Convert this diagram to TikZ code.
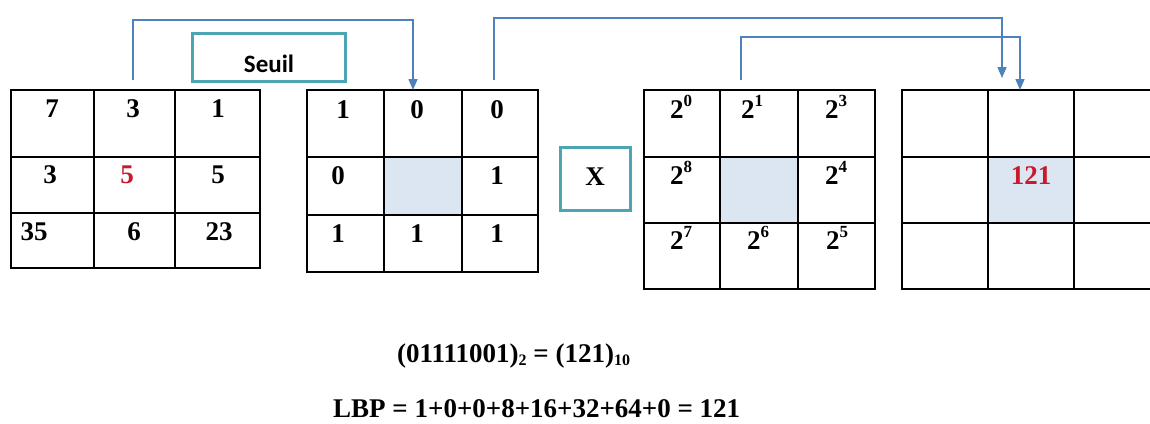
\documentclass[tikz,border=0pt]{standalone}
\usepackage{fontspec}
\setmainfont{Liberation Serif}
\newfontfamily\labelfont{Carlito}
\usetikzlibrary{arrows.meta,calc}

\definecolor{arrowblue}{RGB}{79,129,189}
\definecolor{tealframe}{RGB}{75,165,178}
\definecolor{cellshade}{RGB}{220,230,242}
\definecolor{valred}{RGB}{200,25,45}

% one grid cell: name, left, top, right, bottom, fill colour
\newcommand\gridcell[6]{%
  \node[cellbox, fill=#6, minimum width={#4pt-#2pt}, minimum height={#5pt-#3pt}] (#1) at (#2,#3) {};}
% power of two with its exponent
\newcommand\pw[1]{2\raisebox{0.42em}{\fontsize{17}{17}\selectfont #1}}
% base index after a number
\newcommand\idx[1]{\raisebox{-0.12em}{\fontsize{16}{16}\selectfont #1}}

\tikzset{
  cellbox/.style={draw=black, line width=1.6pt, inner sep=0pt, outer sep=0pt, anchor=north west},
  opbox/.style={draw=tealframe, line width=3pt, inner sep=0pt, outer sep=0pt, anchor=north west},
  val/.style={font=\fontsize{27}{27}\selectfont\bfseries, inner sep=0pt, anchor=base},
  pow/.style={val, anchor=base west},
  link/.style={draw=arrowblue, line width=1.5pt, -{Triangle[length=11pt,width=9pt]}},
}

\begin{document}
\begin{tikzpicture}[x=1pt, y=-1pt]
  \useasboundingbox (0,0) rectangle (1150,423);
  \clip (0,0) rectangle (1150,423);

  % input neighbourhood
  \foreach \c/\xa/\xb in {1/11/94, 2/94/175, 3/175/260}
    \foreach \r/\ya/\yb in {1/90/157, 2/157/213, 3/213/268}
      {\gridcell{g1-\r\c}{\xa}{\ya}{\xb}{\yb}{white}}

  % thresholded neighbourhood
  \foreach \c/\xa/\xb in {1/307/384, 2/384/462, 3/462/538}
    \foreach \r/\ya/\yb in {1/90/157, 2/157/215, 3/215/272}
      {\ifnum\r\c=22 \def\cf{cellshade}\else\def\cf{white}\fi
       \gridcell{g2-\r\c}{\xa}{\ya}{\xb}{\yb}{\cf}}

  % weights
  \foreach \c/\xa/\xb in {1/644/720, 2/720/798, 3/798/875}
    \foreach \r/\ya/\yb in {1/90/157, 2/157/223, 3/223/289}
      {\ifnum\r\c=22 \def\cf{cellshade}\else\def\cf{white}\fi
       \gridcell{g3-\r\c}{\xa}{\ya}{\xb}{\yb}{\cf}}

  % output image
  \foreach \c/\xa/\xb in {1/902/988, 2/988/1074, 3/1074/1160}
    \foreach \r/\ya/\yb in {1/90/157, 2/157/223, 3/223/289}
      {\ifnum\r\c=22 \def\cf{cellshade}\else\def\cf{white}\fi
       \gridcell{g4-\r\c}{\xa}{\ya}{\xb}{\yb}{\cf}}

  % operator boxes
  \node[opbox, minimum width=153pt, minimum height=48pt] (seuil) at (192,33) {};
  \node[font=\labelfont\bfseries\fontsize{25}{25}\selectfont, inner sep=0pt, anchor=base] (seuiltxt) at (269,72) {Seuil};
  \node[opbox, minimum width=70pt, minimum height=63pt] (times) at (560,147) {};
  \node[val] (timestxt) at (595,185) {X};

  % values of the input neighbourhood
  \node[val] (v11) at (52,117) {7};
  \node[val] (v12) at (133,117) {3};
  \node[val] (v13) at (218,117) {1};
  \node[val] (v21) at (50,183) {3};
  \node[val, text=valred] (v22) at (127,183) {5};
  \node[val] (v23) at (218,183) {5};
  \node[val] (v31) at (34,240) {35};
  \node[val] (v32) at (134,240) {6};
  \node[val] (v33) at (219,240) {23};

  % binary code
  \node[val] (b11) at (343,118) {1};
  \node[val] (b12) at (417,118) {0};
  \node[val] (b13) at (497,118) {0};
  \node[val] (b21) at (338,184) {0};
  \node[val] (b23) at (497,184) {1};
  \node[val] (b31) at (338,242) {1};
  \node[val] (b32) at (417,242) {1};
  \node[val] (b33) at (497,242) {1};

  % weights
  \node[pow] (w11) at (670,118) {\pw{0}};
  \node[pow] (w12) at (741,118) {\pw{1}};
  \node[pow] (w13) at (825,118) {\pw{3}};
  \node[pow] (w21) at (670,184) {\pw{8}};
  \node[pow] (w23) at (825,184) {\pw{4}};
  \node[pow] (w31) at (670,249) {\pw{7}};
  \node[pow] (w32) at (747,249) {\pw{6}};
  \node[pow] (w33) at (826,249) {\pw{5}};

  % result
  \node[val, text=valred] (res) at (1031,184) {121};

  % connectors
  \coordinate (a1s) at (133,80);
  \coordinate (a2s) at (494,80);
  \coordinate (a3s) at (741,80);
  \draw[link] (a1s) -- ++(0,-60) -| ($(g2-12.north)+(-10,0)$);
  \draw[link] (a2s) -- ++(0,-62) -| ($(g4-12.north)+(-29,-12)$);
  \draw[link] (a3s) -- ++(0,-43) -| ($(g4-12.north)+(-11,0)$);

  % formulas
  \node[val, anchor=base west] (code) at (397,362) {(01111001)\idx{2} = (121)\idx{10}};
  \node[val, anchor=base west] (lbp) at (333,417) {LBP = 1+0+0+8+16+32+64+0 = 121};
\end{tikzpicture}
\end{document}
